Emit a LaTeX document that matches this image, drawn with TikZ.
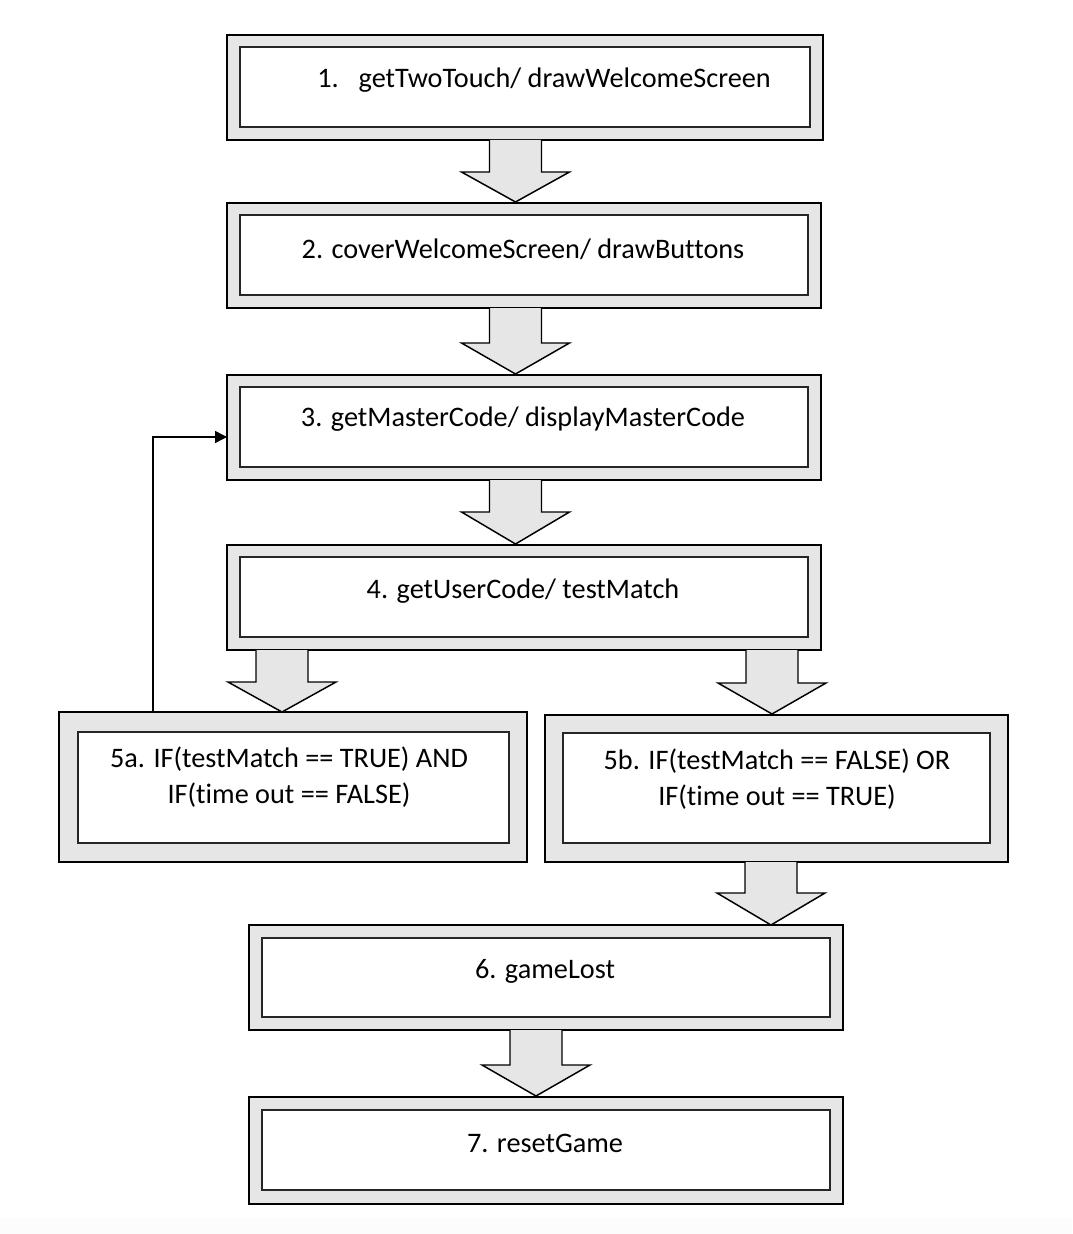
\documentclass[tikz,border=0pt]{standalone}
\usepackage{fontspec}
\setmainfont[Ligatures={NoCommon}]{Carlito}
\usetikzlibrary{arrows.meta,fit}
\definecolor{boxgray}{HTML}{E6E6E6}
\tikzset{
  outerbox/.style={draw=black, line width=1.5pt, fill=boxgray, inner sep=0pt},
  innerbox/.style={draw=black!85, line width=1.1pt, fill=white, inner sep=0pt},
  lbl/.style={font=\fontsize{21.2}{27}\selectfont, align=center, inner sep=0pt},
  blockarrow/.style={draw=black, line width=1.1pt, fill=boxgray, line join=miter},
  feedback/.style={draw=black, line width=1.1pt, -{Triangle[length=9pt,width=9pt]}},
}
\newcommand\barrow[4]{% center x, top y, head y, tip y
  \draw[blockarrow] (#1-26,#2) -- (#1-26,#3) -- (#1-54,#3) -- (#1,#4) -- (#1+54,#3) -- (#1+26,#3) -- (#1+26,#2);}
\begin{document}
\begin{tikzpicture}[x=0.75pt,y=-0.75pt]
\useasboundingbox (0,0) rectangle (1072,1234);
\fill[white] (0,0) rectangle (1072,1234);
\fill[black!1] (0,1218) rectangle (1072,1234);

% boxes
\node[outerbox, fit={(227,35) (823,140)}] (b1) {};
\node[innerbox, fit={(240,47) (810,127)}] (b1i) {};
\node[lbl] (t1) at (544,80) {1.\hspace{15pt}getTwoTouch/ drawWelcomeScreen};

\node[outerbox, fit={(227,203) (821,308)}] (b2) {};
\node[innerbox, fit={(240,215) (808,295)}] (b2i) {};
\node[lbl] (t2) at (523,249) {2. coverWelcomeScreen/ drawButtons};

\node[outerbox, fit={(227,375) (821,480)}] (b3) {};
\node[innerbox, fit={(240,387) (808,467)}] (b3i) {};
\node[lbl] (t3) at (523,419) {3. getMasterCode/ displayMasterCode};

\node[outerbox, fit={(227,545) (821,650)}] (b4) {};
\node[innerbox, fit={(240,557) (808,637)}] (b4i) {};
\node[lbl] (t4) at (523,591) {4. getUserCode/ testMatch};

\node[outerbox, fit={(59,712) (527,862)}] (b5a) {};
\node[innerbox, fit={(78,732) (509,843)}] (b5ai) {};
\node[lbl] (t5a) at (289,777) {5a. IF(testMatch == TRUE) AND\\IF(time out == FALSE)};

\node[outerbox, fit={(545,715) (1008,862)}] (b5b) {};
\node[innerbox, fit={(563,733) (990,843)}] (b5bi) {};
\node[lbl] (t5b) at (777,779) {5b. IF(testMatch == FALSE) OR\\IF(time out == TRUE)};

\node[outerbox, fit={(249,925) (843,1030)}] (b6) {};
\node[innerbox, fit={(262,938) (830,1017)}] (b6i) {};
\node[lbl] (t6) at (545,971) {6. gameLost};

\node[outerbox, fit={(249,1097) (843,1204)}] (b7) {};
\node[innerbox, fit={(262,1110) (830,1190)}] (b7i) {};
\node[lbl] (t7) at (545,1143) {7. resetGame};

% block arrows
\barrow{515.5}{140}{172}{202}
\barrow{515.5}{308}{343}{374}
\barrow{515.5}{480}{512}{544}
\barrow{282}{650}{682}{712}
\barrow{772}{650}{683}{714}
\barrow{771}{862}{893}{925}
\barrow{536}{1030}{1065}{1096}

% feedback loop
\coordinate (fbs) at (153,712);
\coordinate (fbe) at (227,437);
\draw[feedback] (fbs) |- (fbe);
\end{tikzpicture}
\end{document}
